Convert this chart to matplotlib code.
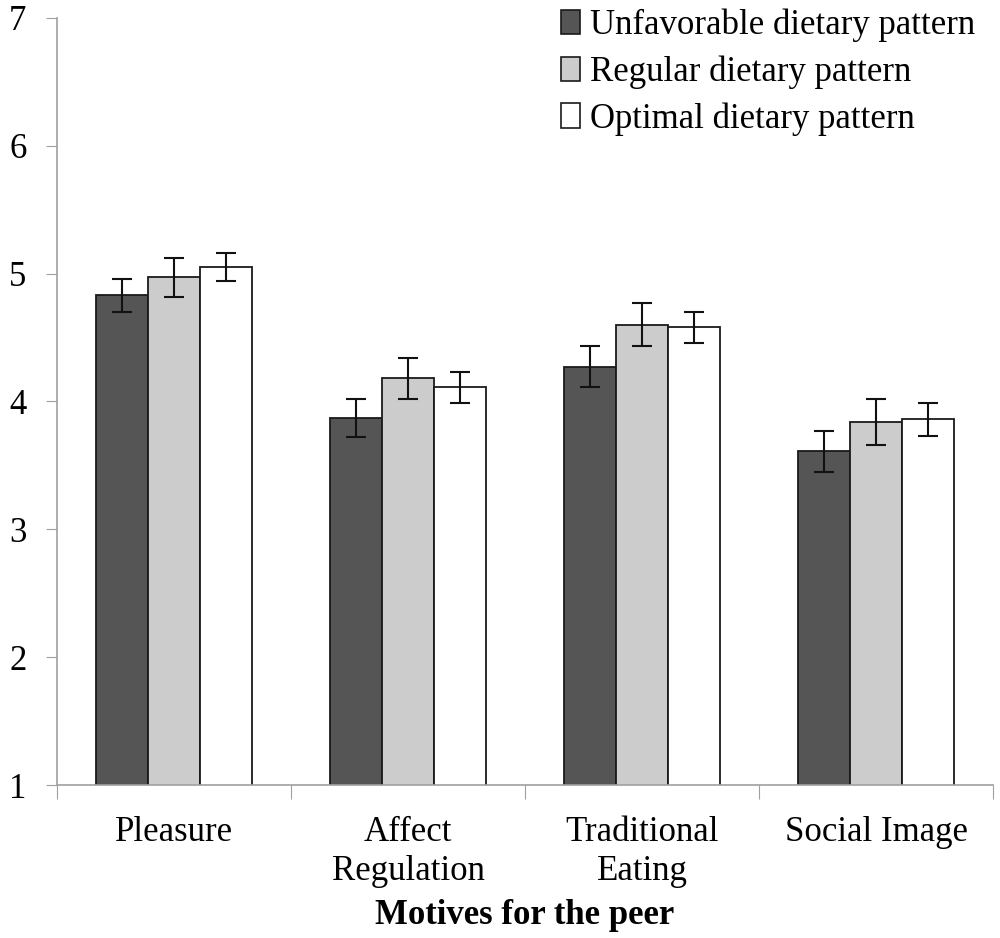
import numpy as np
import matplotlib.pyplot as plt
from matplotlib.patches import Patch

CATEGORIES = ['Pleasure', 'Affect\nRegulation', 'Traditional\nEating', 'Social Image']
SERIES = ['Unfavorable dietary pattern', 'Regular dietary pattern', 'Optimal dietary pattern']
UNFAVORABLE = [4.83, 3.87, 4.27, 3.61]
REGULAR = [4.97, 4.18, 4.60, 3.84]
OPTIMAL = [5.05, 4.11, 4.58, 3.86]
UNFAVORABLE_ERR = [0.13, 0.15, 0.16, 0.16]
REGULAR_ERR = [0.15, 0.16, 0.17, 0.18]
OPTIMAL_ERR = [0.11, 0.12, 0.12, 0.13]

COLORS = ['#555555', '#cccccc', '#ffffff']
BAR_WIDTH = 0.223
FONT = 'Liberation Serif'
FONT_SIZE = 25
AXIS_GRAY = '#a0a0a0'


def main():
    plt.rcParams['font.family'] = [FONT, 'DejaVu Serif']
    fig = plt.figure(figsize=(10, 9.38), dpi=100)
    ax = fig.add_axes([0.057, 0.163, 0.936, 0.818])

    x = np.arange(len(CATEGORIES))
    values = [UNFAVORABLE, REGULAR, OPTIMAL]
    errors = [UNFAVORABLE_ERR, REGULAR_ERR, OPTIMAL_ERR]
    for i in range(len(SERIES)):
        ax.bar(x + (i - 1) * BAR_WIDTH, values[i], BAR_WIDTH, bottom=0,
               color=COLORS[i], edgecolor='#1a1a1a', linewidth=1.3, zorder=2,
               yerr=errors[i], capsize=7,
               error_kw=dict(ecolor='#111111', elinewidth=1.5, capthick=1.5))

    ax.set_ylim(1, 7)
    ax.set_xlim(-0.5, len(CATEGORIES) - 0.5)
    ax.set_yticks(range(1, 8))
    ax.tick_params(axis='y', labelsize=FONT_SIZE, length=8, color=AXIS_GRAY, pad=14)

    ax.set_xticks(np.arange(len(CATEGORIES) + 1) - 0.5)
    ax.set_xticklabels([])
    ax.tick_params(axis='x', which='major', length=10, color=AXIS_GRAY)
    ax.set_xticks(x, minor=True)
    ax.set_xticklabels(CATEGORIES, minor=True, fontsize=FONT_SIZE, linespacing=1.25)
    ax.tick_params(axis='x', which='minor', length=0, pad=22)

    for side in ['top', 'right']:
        ax.spines[side].set_visible(False)
    for side in ['left', 'bottom']:
        ax.spines[side].set_color(AXIS_GRAY)
        ax.spines[side].set_linewidth(1.2)

    ax.set_xlabel('Motives for the peer', fontsize=FONT_SIZE, fontweight='bold', labelpad=8)

    handles = [Patch(facecolor=COLORS[i], edgecolor='#1a1a1a', linewidth=1.2) for i in range(len(SERIES))]
    ax.legend(handles, SERIES, loc='upper right', bbox_to_anchor=(0.996, 1.03), frameon=False,
              fontsize=25, handlelength=0.55, handleheight=0.7, handletextpad=0.3,
              labelspacing=0.38, borderaxespad=0)

    plt.savefig('out.png', dpi=100)


if __name__ == '__main__':
    main()
